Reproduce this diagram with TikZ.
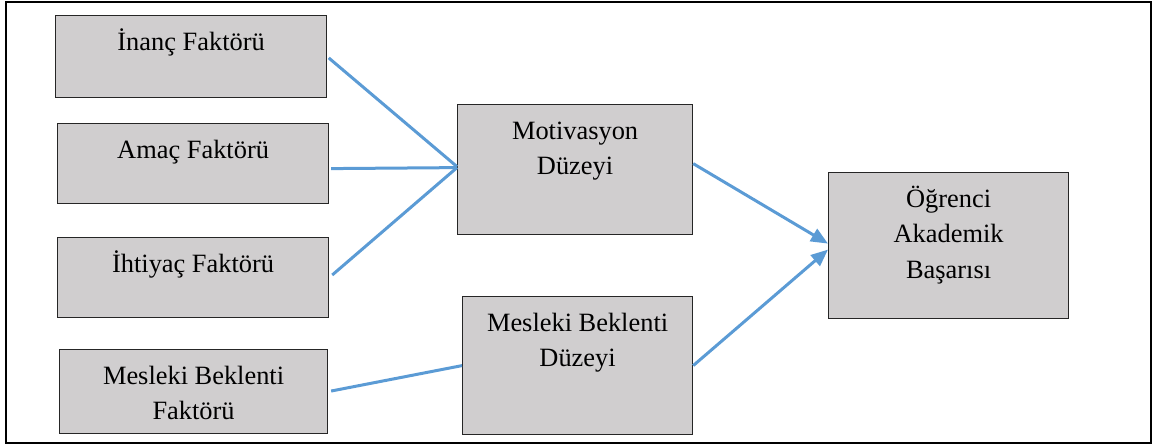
\documentclass[tikz,border=0pt]{standalone}
\usepackage{fontspec}
\setmainfont{Liberation Serif}
\usetikzlibrary{arrows.meta}
\definecolor{boxgray}{RGB}{208,206,207}
\definecolor{linkblue}{RGB}{91,155,213}
% box text: width, height, lines (first baseline one skip below the top)
\newcommand{\boxlbl}[3]{\parbox[t][#2][t]{#1}{\centering\rule{0pt}{17.5pt}#3}}
\tikzset{
  factor/.style={draw=black!85, line width=0.6pt, fill=boxgray, inner sep=0pt,
    anchor=north west, font=\fontsize{13.2}{17.6}\selectfont},
  link/.style={draw=linkblue, line width=1.5pt},
  arrowlink/.style={link, -{Triangle[length=8.5pt,width=7pt]}}
}
\begin{document}
\begin{tikzpicture}[x=0.5pt,y=-0.5pt]
    \useasboundingbox (0,0) rectangle (1153,447);
    \draw[line width=1pt] (6,2) rectangle (1151,443);
    % factors
    \node[factor] (inanc) at (55,15) {\boxlbl{135.5pt}{41pt}{İnanç Faktörü}};
    \node[factor] (amac) at (57,123) {\boxlbl{135.5pt}{40pt}{Amaç Faktörü}};
    \node[factor] (ihtiyac) at (57,237) {\boxlbl{135.5pt}{40pt}{İhtiyaç Faktörü}};
    \node[factor] (mbf) at (59,349) {\boxlbl{134pt}{42pt}{Mesleki Beklenti\\Faktörü}};
    % levels
    \node[factor] (motiv) at (457,104) {\boxlbl{117.5pt}{65pt}{Motivasyon\\Düzeyi}};
    \node[factor] (mbd) at (462,296) {\boxlbl{115pt}{69pt}{Mesleki Beklenti\\Düzeyi}};
    % outcome
    \node[factor] (ogr) at (828,172) {\boxlbl{120pt}{73pt}{Öğrenci\\Akademik\\Başarısı}};

    \draw[link, shorten <=1pt] (inanc.east) -- ([yshift=1.5pt]motiv.west);
    \draw[link, shorten <=1pt] ([yshift=-2.5pt]amac.east) -- ([yshift=1pt]motiv.west);
    \draw[link, shorten <=2pt] (ihtiyac.east) -- ([yshift=1pt]motiv.west);
    \draw[link, shorten <=1.5pt] (mbf.east) -- (mbd.west);
    \draw[arrowlink] ([yshift=3pt]motiv.east) -- ([yshift=1pt]ogr.west);
    \draw[arrowlink] (mbd.east) -- ([yshift=-2pt]ogr.west);
\end{tikzpicture}
\end{document}
